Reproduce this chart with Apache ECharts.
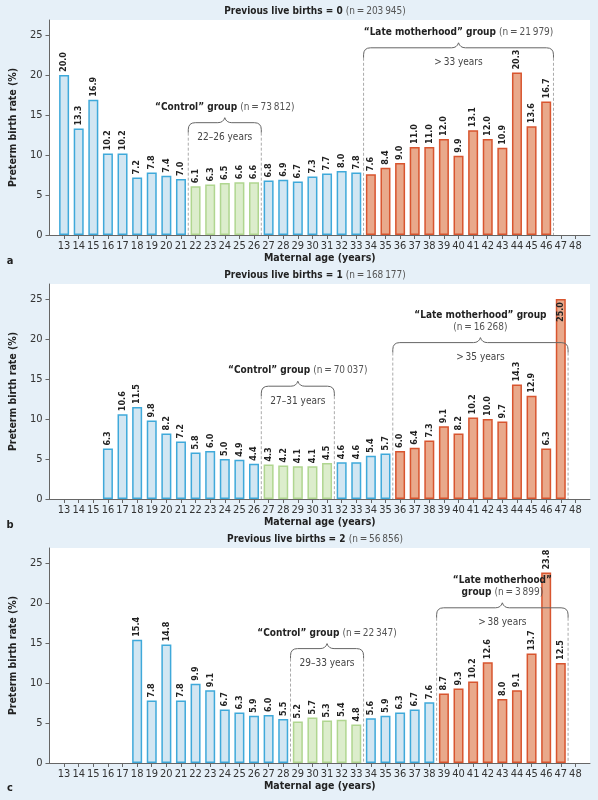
<!DOCTYPE html>
<html><head><meta charset="utf-8">
<script src="https://cdn.jsdelivr.net/npm/echarts@6/dist/echarts.min.js"></script>
<style>html,body{margin:0;padding:0;background:#e6f0f8}#c{width:598px;height:800px}</style>
</head><body><div id="c"></div>
<script>
// ---------------- DATA ----------------
const ages = [13,14,15,16,17,18,19,20,21,22,23,24,25,26,27,28,29,30,31,32,33,34,35,36,37,38,39,40,41,42,43,44,45,46,47,48];
const ratesParity0 = [20.0,13.3,16.9,10.2,10.2,7.2,7.8,7.4,7.0,6.1,6.3,6.5,6.6,6.6,6.8,6.9,6.7,7.3,7.7,8.0,7.8,7.6,8.4,9.0,11.0,11.0,12.0,9.9,13.1,12.0,10.9,20.3,13.6,16.7,null,null];
const ratesParity1 = [null,null,null,6.3,10.6,11.5,9.8,8.2,7.2,5.8,6.0,5.0,4.9,4.4,4.3,4.2,4.1,4.1,4.5,4.6,4.6,5.4,5.7,6.0,6.4,7.3,9.1,8.2,10.2,10.0,9.7,14.3,12.9,6.3,25.0,null];
const ratesParity2 = [null,null,null,null,null,15.4,7.8,14.8,7.8,9.9,9.1,6.7,6.3,5.9,6.0,5.5,5.2,5.7,5.3,5.4,4.8,5.6,5.9,6.3,6.7,7.6,8.7,9.3,10.2,12.6,8.0,9.1,13.7,23.8,12.5,null];
const yTicks = [0,5,10,15,20,25];
const panelLetters = ['a','b','c'];
const titlesBold = ['Previous live births = 0','Previous live births = 1','Previous live births = 2'];
const titlesN = ['(n\u2009=\u2009203\u2009945)','(n\u2009=\u2009168\u2009177)','(n\u2009=\u200956\u2009856)'];
const controlRanges = [[22,26],[27,31],[29,33]];
const lateRanges = [[34,46],[36,47],[39,47]];
const controlN = ['(n\u2009=\u200973\u2009812)','(n\u2009=\u200970\u2009037)','(n\u2009=\u200922\u2009347)'];
const lateN = ['(n\u2009=\u200921\u2009979)','(n\u2009=\u200916\u2009268)','(n\u2009=\u20093\u2009899)'];
const controlYears = ['22–26 years','27–31 years','29–33 years'];
const lateYears = ['>\u200933 years','>\u200935 years','>\u200938 years'];
const xAxisTitle = 'Maternal age (years)';
const yAxisTitle = 'Preterm birth rate (%)';

// ---------------- LAYOUT / STYLE ----------------
const FONT = "'Liberation Sans Narrow','DejaVu Sans Condensed','Liberation Sans',sans-serif";
const ratesAll = [ratesParity0, ratesParity1, ratesParity2];
const gridTops = [20, 284, 548];
const GL = 40, GR = 8, GH = 215, YMAX = 26.875;
const titleYs = [11, 275, 539];
const letterYs = [261, 525, 788];
const bracketLineY = [[14.04, 23.4],[14.1, 19.55],[14.3, 19.4]];
const colors = {
  base:  {fill:'#d2e6f2', stroke:'#3fa9da'},
  ctrl:  {fill:'#dcedcc', stroke:'#b0d690'},
  late:  {fill:'#e9a98b', stroke:'#d8552f'}
};
const cats = [''].concat(ages.map(String), ['']);
const richTxt = {
  b:{fontFamily:FONT, fontWeight:'bold', fontSize:10, fill:'#222'},
  n:{fontFamily:FONT, fontSize:10, fill:'#555'}
};

function segText(segs){ return segs.map(s => '{' + s[0] + '|' + s[1] + '}').join(''); }

const bracketSpecs = [0,1,2].map(k => [
  {from: controlRanges[k][0], to: controlRanges[k][1], lineY: bracketLineY[k][0],
   lines: [[['b','“Control” group '],['n',controlN[k]]]], sub: controlYears[k]},
  {from: lateRanges[k][0], to: lateRanges[k][1], lineY: bracketLineY[k][1],
   lines: k === 0 ? [[['b','“Late motherhood” group '],['n',lateN[k]]]]
        : k === 1 ? [[['b','“Late motherhood” group']],[['n',lateN[k]]]]
        : [[['b','“Late motherhood”']],[['b','group '],['n',lateN[k]]]],
   sub: lateYears[k]}
]);

function makeRender(k){
  return function(params, api){
    const s = bracketSpecs[k][params.dataIndex];
    const i0 = ages.indexOf(s.from) + 1, i1 = ages.indexOf(s.to) + 1;
    const xL = (api.coord([i0-1,0])[0] + api.coord([i0,0])[0]) / 2;
    const xR = (api.coord([i1,0])[0] + api.coord([i1+1,0])[0]) / 2;
    const y0 = api.coord([i0,0])[1];
    const yl = api.coord([i0,s.lineY])[1];
    const xc = (xL + xR) / 2, r = 7, yEnd = yl + 10;
    const path = `M${xL},${yEnd} L${xL},${yl+r} Q${xL},${yl} ${xL+r},${yl} L${xc-7},${yl} Q${xc-1.5},${yl} ${xc},${yl-5} Q${xc+1.5},${yl} ${xc+7},${yl} L${xR-r},${yl} Q${xR},${yl} ${xR},${yl+r} L${xR},${yEnd}`;
    const children = [
      {type:'path', shape:{pathData:path}, style:{stroke:'#666', fill:null, lineWidth:1}},
      {type:'line', shape:{x1:xL,y1:yEnd,x2:xL,y2:y0}, style:{stroke:'#aaa', lineDash:[3,2], lineWidth:1}},
      {type:'line', shape:{x1:xR,y1:yEnd,x2:xR,y2:y0}, style:{stroke:'#aaa', lineDash:[3,2], lineWidth:1}},
      {type:'text', style:{text:s.sub, x:xc, y:yl+15, align:'center', verticalAlign:'middle',
        fontFamily:FONT, fontSize:10, fill:'#444'}}
    ];
    const n = s.lines.length;
    s.lines.forEach((ln, j) => {
      children.push({type:'text', style:{text:segText(ln), rich:richTxt, x:xc, y:yl-15.5-(n-1-j)*11.7,
        align:'center', verticalAlign:'middle', fontFamily:FONT, fontSize:10}});
    });
    return {type:'group', children};
  };
}

function groupOf(age, k){
  if (age >= controlRanges[k][0] && age <= controlRanges[k][1]) return 'ctrl';
  if (age >= lateRanges[k][0] && age <= lateRanges[k][1]) return 'late';
  return 'base';
}

const grids = [], xAxes = [], yAxes = [], series = [], graphics = [];
const xc = GL + (598 - GL - GR) / 2;
for (let k = 0; k < 3; k++){
  grids.push({left:GL, right:GR, top:gridTops[k], height:GH, show:true, backgroundColor:'#fff', borderWidth:0});
  xAxes.push({type:'category', gridIndex:k, data:cats, boundaryGap:false,
    axisLine:{lineStyle:{color:'#666', width:1}},
    axisTick:{show:true, length:4, interval:(i)=> i>0 && i<cats.length-1, lineStyle:{color:'#666'}},
    axisLabel:{interval:0, margin:6, fontFamily:FONT, fontSize:11, color:'#333'},
    name:xAxisTitle, nameLocation:'middle', nameGap:18,
    nameTextStyle:{fontFamily:FONT, fontSize:10.5, fontWeight:'bold', color:'#222'}});
  yAxes.push({type:'value', gridIndex:k, min:0, max:YMAX,
    axisLine:{show:true, lineStyle:{color:'#666', width:1}},
    axisTick:{show:true, length:4, customValues:yTicks, lineStyle:{color:'#666'}},
    axisLabel:{customValues:yTicks, margin:7, fontFamily:FONT, fontSize:11, color:'#333'},
    splitLine:{show:false},
    name:yAxisTitle, nameLocation:'middle', nameGap:22,
    nameTextStyle:{fontFamily:FONT, fontSize:10.5, fontWeight:'bold', color:'#222'}});
  const data = [{value:null}].concat(ratesAll[k].map((v, i) => {
    const g = colors[groupOf(ages[i], k)];
    const inside = v != null && v > 24;
    return {value:v, itemStyle:{color:g.fill, borderColor:g.stroke, borderWidth:1.5},
      label: inside ? {position:'insideTop', align:'right', distance:3} : {}};
  }), [{value:null}]);
  series.push({type:'bar', xAxisIndex:k, yAxisIndex:k, data, barWidth:10, z:2,
    label:{show:true, position:'top', rotate:90, align:'left', verticalAlign:'middle', distance:3,
      fontFamily:FONT, fontSize:9, fontWeight:'bold', color:'#222',
      formatter:(p)=> p.value == null ? '' : p.value.toFixed(1)}});
  series.push({type:'custom', xAxisIndex:k, yAxisIndex:k, silent:true, z:5, clip:false,
    renderItem:makeRender(k), data:bracketSpecs[k].map(()=>[1,0])});
  graphics.push({type:'text', x:xc, y:titleYs[k], style:{text:segText([['b',titlesBold[k]+' '],['n',titlesN[k]]]),
    rich:richTxt, align:'center', verticalAlign:'middle', fontFamily:FONT, fontSize:10}});
  graphics.push({type:'text', x:10, y:letterYs[k], style:{text:panelLetters[k], align:'center', verticalAlign:'middle',
    fontFamily:FONT, fontSize:11, fontWeight:'bold', fill:'#222'}});
}

const chart = echarts.init(document.getElementById('c'), null, {renderer:'canvas', width:598, height:800});
chart.setOption({backgroundColor:'#e6f0f8', animation:false, grid:grids, xAxis:xAxes, yAxis:yAxes, series, graphic:graphics});
</script></body></html>
